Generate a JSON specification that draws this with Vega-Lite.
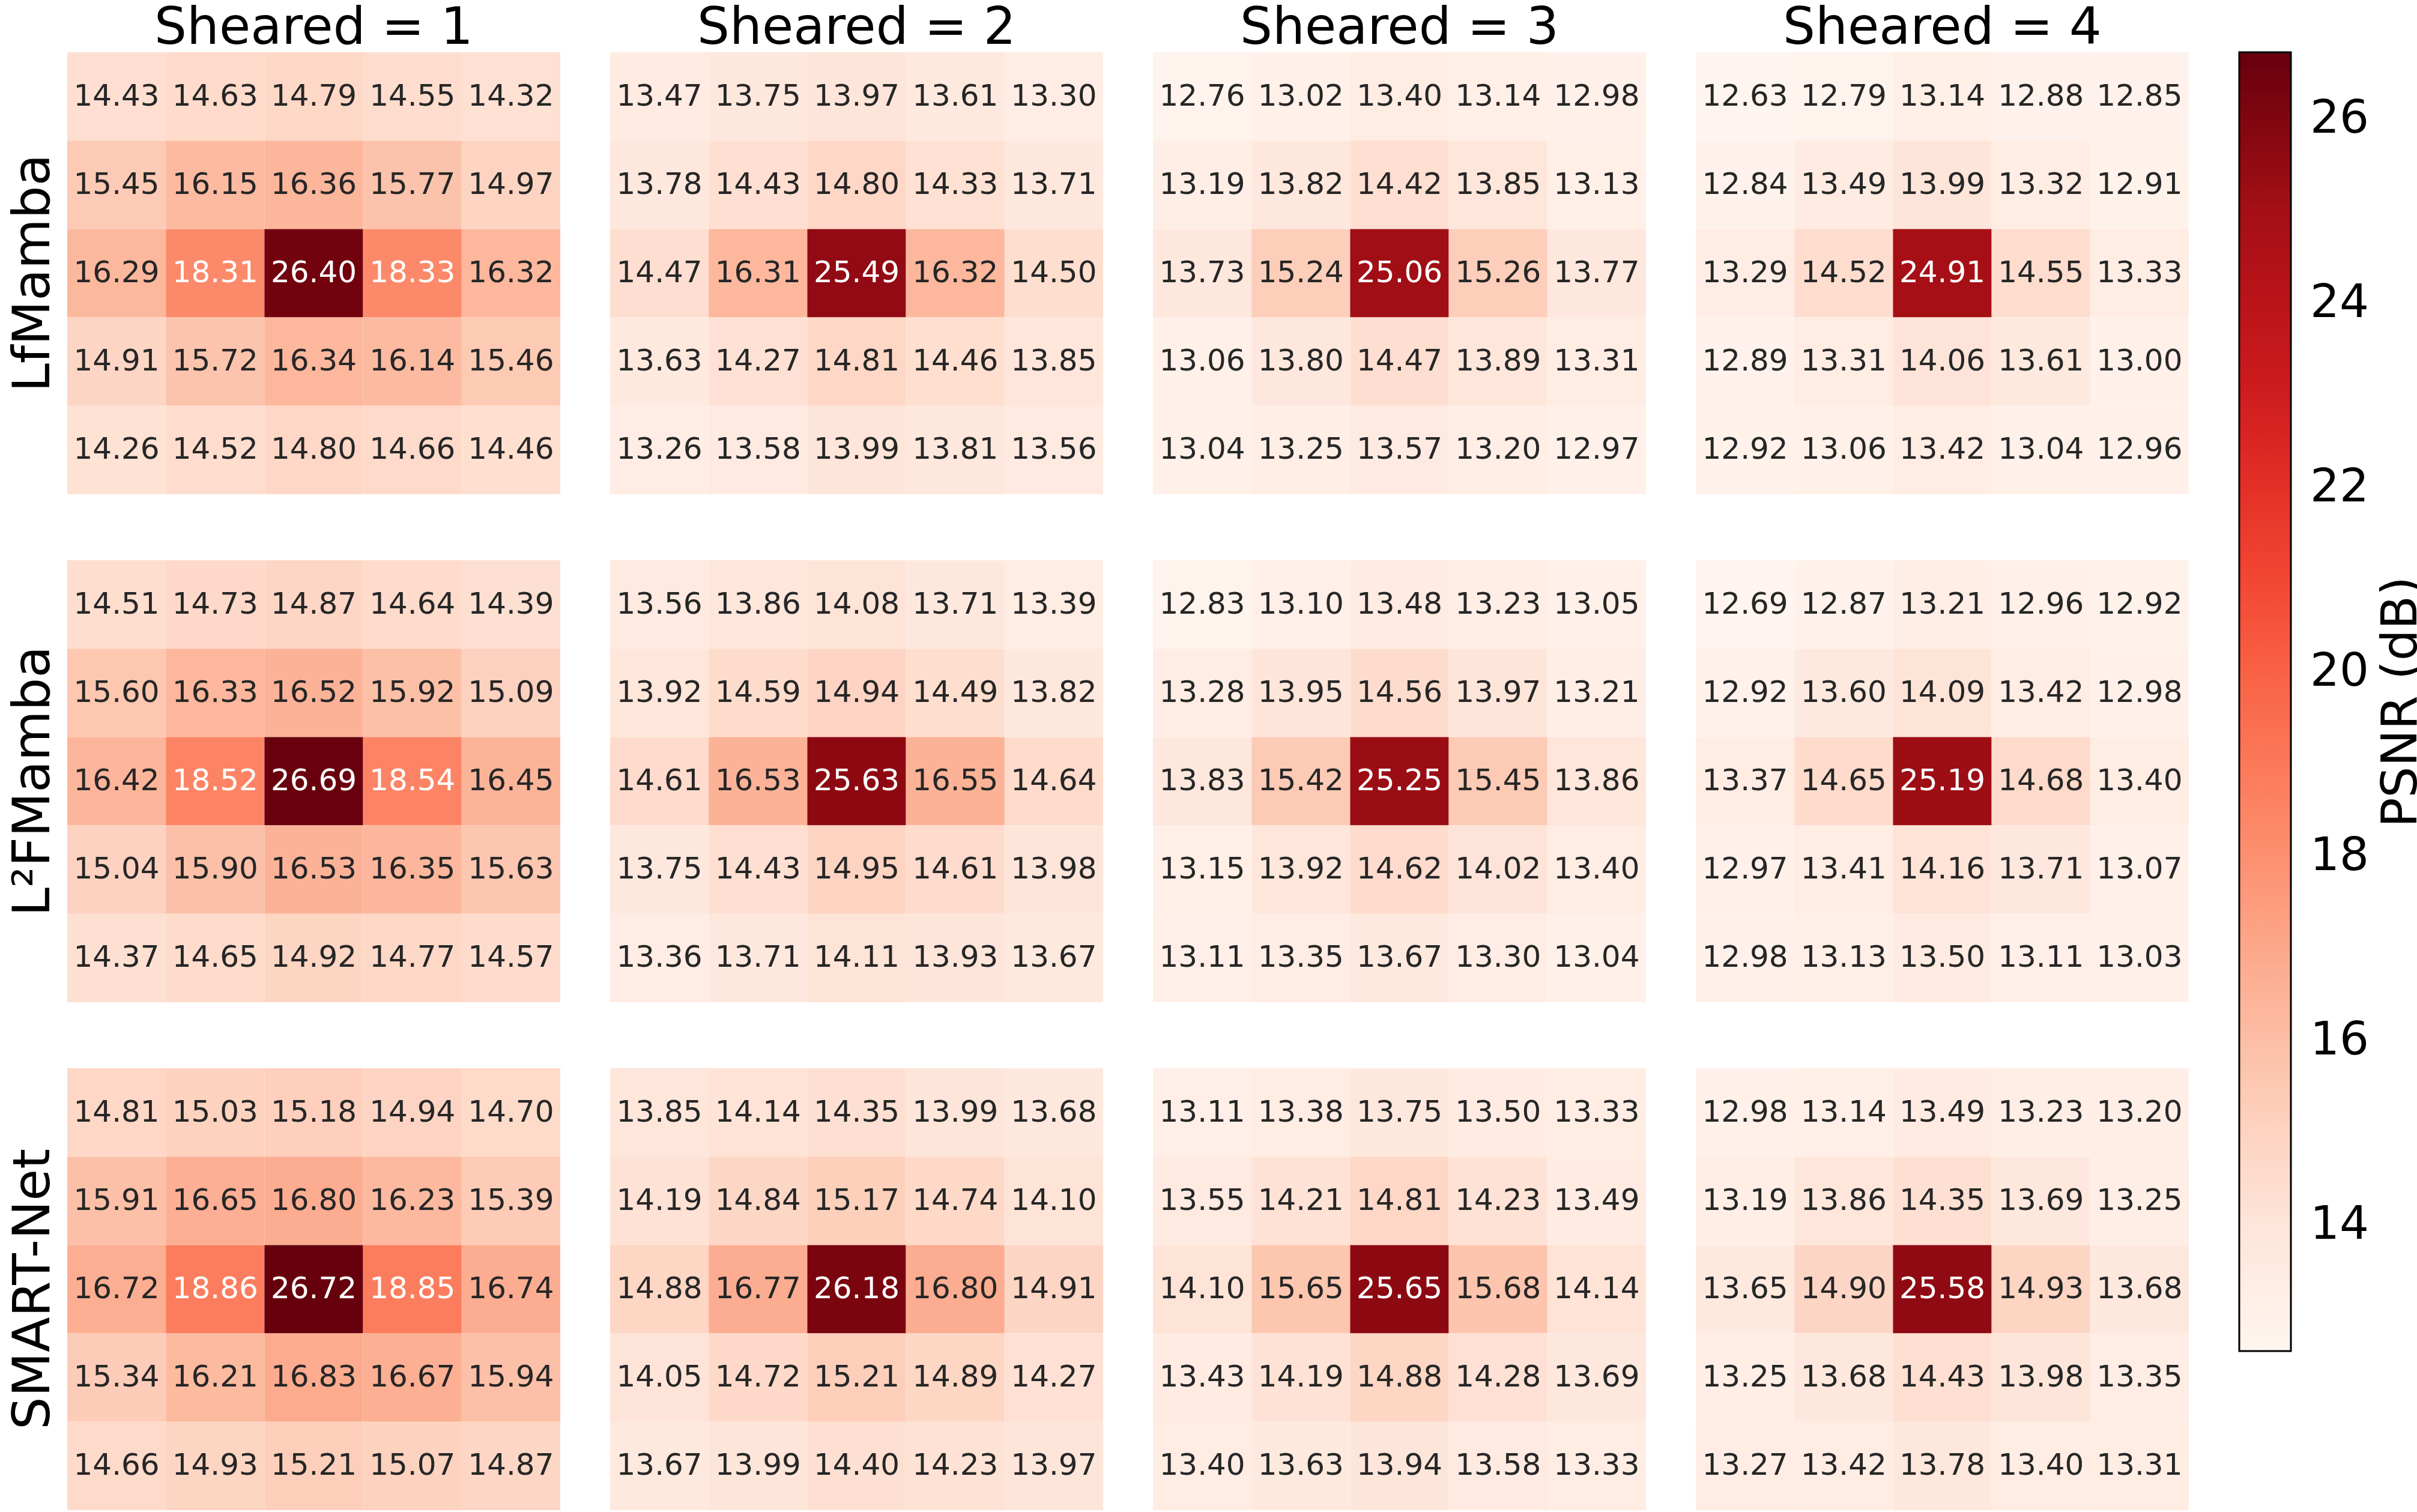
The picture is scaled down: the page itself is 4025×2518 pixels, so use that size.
{
  "$schema": "https://vega.github.io/schema/vega-lite/v6.json",
  "padding": {"left": 12, "top": 5, "right": 0, "bottom": 0},
  "background": "white",
  "config": {
    "view": {"stroke": null},
    "font": "DejaVu Sans"
  },
  "datasets": {
    "grid": [
      {"m":"LfMamba","s":1,"r":0,"c":0,"v":14.43},{"m":"LfMamba","s":1,"r":0,"c":1,"v":14.63},{"m":"LfMamba","s":1,"r":0,"c":2,"v":14.79},{"m":"LfMamba","s":1,"r":0,"c":3,"v":14.55},{"m":"LfMamba","s":1,"r":0,"c":4,"v":14.32},
      {"m":"LfMamba","s":1,"r":1,"c":0,"v":15.45},{"m":"LfMamba","s":1,"r":1,"c":1,"v":16.15},{"m":"LfMamba","s":1,"r":1,"c":2,"v":16.36},{"m":"LfMamba","s":1,"r":1,"c":3,"v":15.77},{"m":"LfMamba","s":1,"r":1,"c":4,"v":14.97},
      {"m":"LfMamba","s":1,"r":2,"c":0,"v":16.29},{"m":"LfMamba","s":1,"r":2,"c":1,"v":18.31},{"m":"LfMamba","s":1,"r":2,"c":2,"v":26.40},{"m":"LfMamba","s":1,"r":2,"c":3,"v":18.33},{"m":"LfMamba","s":1,"r":2,"c":4,"v":16.32},
      {"m":"LfMamba","s":1,"r":3,"c":0,"v":14.91},{"m":"LfMamba","s":1,"r":3,"c":1,"v":15.72},{"m":"LfMamba","s":1,"r":3,"c":2,"v":16.34},{"m":"LfMamba","s":1,"r":3,"c":3,"v":16.14},{"m":"LfMamba","s":1,"r":3,"c":4,"v":15.46},
      {"m":"LfMamba","s":1,"r":4,"c":0,"v":14.26},{"m":"LfMamba","s":1,"r":4,"c":1,"v":14.52},{"m":"LfMamba","s":1,"r":4,"c":2,"v":14.80},{"m":"LfMamba","s":1,"r":4,"c":3,"v":14.66},{"m":"LfMamba","s":1,"r":4,"c":4,"v":14.46},

      {"m":"LfMamba","s":2,"r":0,"c":0,"v":13.47},{"m":"LfMamba","s":2,"r":0,"c":1,"v":13.75},{"m":"LfMamba","s":2,"r":0,"c":2,"v":13.97},{"m":"LfMamba","s":2,"r":0,"c":3,"v":13.61},{"m":"LfMamba","s":2,"r":0,"c":4,"v":13.30},
      {"m":"LfMamba","s":2,"r":1,"c":0,"v":13.78},{"m":"LfMamba","s":2,"r":1,"c":1,"v":14.43},{"m":"LfMamba","s":2,"r":1,"c":2,"v":14.80},{"m":"LfMamba","s":2,"r":1,"c":3,"v":14.33},{"m":"LfMamba","s":2,"r":1,"c":4,"v":13.71},
      {"m":"LfMamba","s":2,"r":2,"c":0,"v":14.47},{"m":"LfMamba","s":2,"r":2,"c":1,"v":16.31},{"m":"LfMamba","s":2,"r":2,"c":2,"v":25.49},{"m":"LfMamba","s":2,"r":2,"c":3,"v":16.32},{"m":"LfMamba","s":2,"r":2,"c":4,"v":14.50},
      {"m":"LfMamba","s":2,"r":3,"c":0,"v":13.63},{"m":"LfMamba","s":2,"r":3,"c":1,"v":14.27},{"m":"LfMamba","s":2,"r":3,"c":2,"v":14.81},{"m":"LfMamba","s":2,"r":3,"c":3,"v":14.46},{"m":"LfMamba","s":2,"r":3,"c":4,"v":13.85},
      {"m":"LfMamba","s":2,"r":4,"c":0,"v":13.26},{"m":"LfMamba","s":2,"r":4,"c":1,"v":13.58},{"m":"LfMamba","s":2,"r":4,"c":2,"v":13.99},{"m":"LfMamba","s":2,"r":4,"c":3,"v":13.81},{"m":"LfMamba","s":2,"r":4,"c":4,"v":13.56},

      {"m":"LfMamba","s":3,"r":0,"c":0,"v":12.76},{"m":"LfMamba","s":3,"r":0,"c":1,"v":13.02},{"m":"LfMamba","s":3,"r":0,"c":2,"v":13.40},{"m":"LfMamba","s":3,"r":0,"c":3,"v":13.14},{"m":"LfMamba","s":3,"r":0,"c":4,"v":12.98},
      {"m":"LfMamba","s":3,"r":1,"c":0,"v":13.19},{"m":"LfMamba","s":3,"r":1,"c":1,"v":13.82},{"m":"LfMamba","s":3,"r":1,"c":2,"v":14.42},{"m":"LfMamba","s":3,"r":1,"c":3,"v":13.85},{"m":"LfMamba","s":3,"r":1,"c":4,"v":13.13},
      {"m":"LfMamba","s":3,"r":2,"c":0,"v":13.73},{"m":"LfMamba","s":3,"r":2,"c":1,"v":15.24},{"m":"LfMamba","s":3,"r":2,"c":2,"v":25.06},{"m":"LfMamba","s":3,"r":2,"c":3,"v":15.26},{"m":"LfMamba","s":3,"r":2,"c":4,"v":13.77},
      {"m":"LfMamba","s":3,"r":3,"c":0,"v":13.06},{"m":"LfMamba","s":3,"r":3,"c":1,"v":13.80},{"m":"LfMamba","s":3,"r":3,"c":2,"v":14.47},{"m":"LfMamba","s":3,"r":3,"c":3,"v":13.89},{"m":"LfMamba","s":3,"r":3,"c":4,"v":13.31},
      {"m":"LfMamba","s":3,"r":4,"c":0,"v":13.04},{"m":"LfMamba","s":3,"r":4,"c":1,"v":13.25},{"m":"LfMamba","s":3,"r":4,"c":2,"v":13.57},{"m":"LfMamba","s":3,"r":4,"c":3,"v":13.20},{"m":"LfMamba","s":3,"r":4,"c":4,"v":12.97},

      {"m":"LfMamba","s":4,"r":0,"c":0,"v":12.63},{"m":"LfMamba","s":4,"r":0,"c":1,"v":12.79},{"m":"LfMamba","s":4,"r":0,"c":2,"v":13.14},{"m":"LfMamba","s":4,"r":0,"c":3,"v":12.88},{"m":"LfMamba","s":4,"r":0,"c":4,"v":12.85},
      {"m":"LfMamba","s":4,"r":1,"c":0,"v":12.84},{"m":"LfMamba","s":4,"r":1,"c":1,"v":13.49},{"m":"LfMamba","s":4,"r":1,"c":2,"v":13.99},{"m":"LfMamba","s":4,"r":1,"c":3,"v":13.32},{"m":"LfMamba","s":4,"r":1,"c":4,"v":12.91},
      {"m":"LfMamba","s":4,"r":2,"c":0,"v":13.29},{"m":"LfMamba","s":4,"r":2,"c":1,"v":14.52},{"m":"LfMamba","s":4,"r":2,"c":2,"v":24.91},{"m":"LfMamba","s":4,"r":2,"c":3,"v":14.55},{"m":"LfMamba","s":4,"r":2,"c":4,"v":13.33},
      {"m":"LfMamba","s":4,"r":3,"c":0,"v":12.89},{"m":"LfMamba","s":4,"r":3,"c":1,"v":13.31},{"m":"LfMamba","s":4,"r":3,"c":2,"v":14.06},{"m":"LfMamba","s":4,"r":3,"c":3,"v":13.61},{"m":"LfMamba","s":4,"r":3,"c":4,"v":13.00},
      {"m":"LfMamba","s":4,"r":4,"c":0,"v":12.92},{"m":"LfMamba","s":4,"r":4,"c":1,"v":13.06},{"m":"LfMamba","s":4,"r":4,"c":2,"v":13.42},{"m":"LfMamba","s":4,"r":4,"c":3,"v":13.04},{"m":"LfMamba","s":4,"r":4,"c":4,"v":12.96},

      {"m":"L²FMamba","s":1,"r":0,"c":0,"v":14.51},{"m":"L²FMamba","s":1,"r":0,"c":1,"v":14.73},{"m":"L²FMamba","s":1,"r":0,"c":2,"v":14.87},{"m":"L²FMamba","s":1,"r":0,"c":3,"v":14.64},{"m":"L²FMamba","s":1,"r":0,"c":4,"v":14.39},
      {"m":"L²FMamba","s":1,"r":1,"c":0,"v":15.60},{"m":"L²FMamba","s":1,"r":1,"c":1,"v":16.33},{"m":"L²FMamba","s":1,"r":1,"c":2,"v":16.52},{"m":"L²FMamba","s":1,"r":1,"c":3,"v":15.92},{"m":"L²FMamba","s":1,"r":1,"c":4,"v":15.09},
      {"m":"L²FMamba","s":1,"r":2,"c":0,"v":16.42},{"m":"L²FMamba","s":1,"r":2,"c":1,"v":18.52},{"m":"L²FMamba","s":1,"r":2,"c":2,"v":26.69},{"m":"L²FMamba","s":1,"r":2,"c":3,"v":18.54},{"m":"L²FMamba","s":1,"r":2,"c":4,"v":16.45},
      {"m":"L²FMamba","s":1,"r":3,"c":0,"v":15.04},{"m":"L²FMamba","s":1,"r":3,"c":1,"v":15.90},{"m":"L²FMamba","s":1,"r":3,"c":2,"v":16.53},{"m":"L²FMamba","s":1,"r":3,"c":3,"v":16.35},{"m":"L²FMamba","s":1,"r":3,"c":4,"v":15.63},
      {"m":"L²FMamba","s":1,"r":4,"c":0,"v":14.37},{"m":"L²FMamba","s":1,"r":4,"c":1,"v":14.65},{"m":"L²FMamba","s":1,"r":4,"c":2,"v":14.92},{"m":"L²FMamba","s":1,"r":4,"c":3,"v":14.77},{"m":"L²FMamba","s":1,"r":4,"c":4,"v":14.57},

      {"m":"L²FMamba","s":2,"r":0,"c":0,"v":13.56},{"m":"L²FMamba","s":2,"r":0,"c":1,"v":13.86},{"m":"L²FMamba","s":2,"r":0,"c":2,"v":14.08},{"m":"L²FMamba","s":2,"r":0,"c":3,"v":13.71},{"m":"L²FMamba","s":2,"r":0,"c":4,"v":13.39},
      {"m":"L²FMamba","s":2,"r":1,"c":0,"v":13.92},{"m":"L²FMamba","s":2,"r":1,"c":1,"v":14.59},{"m":"L²FMamba","s":2,"r":1,"c":2,"v":14.94},{"m":"L²FMamba","s":2,"r":1,"c":3,"v":14.49},{"m":"L²FMamba","s":2,"r":1,"c":4,"v":13.82},
      {"m":"L²FMamba","s":2,"r":2,"c":0,"v":14.61},{"m":"L²FMamba","s":2,"r":2,"c":1,"v":16.53},{"m":"L²FMamba","s":2,"r":2,"c":2,"v":25.63},{"m":"L²FMamba","s":2,"r":2,"c":3,"v":16.55},{"m":"L²FMamba","s":2,"r":2,"c":4,"v":14.64},
      {"m":"L²FMamba","s":2,"r":3,"c":0,"v":13.75},{"m":"L²FMamba","s":2,"r":3,"c":1,"v":14.43},{"m":"L²FMamba","s":2,"r":3,"c":2,"v":14.95},{"m":"L²FMamba","s":2,"r":3,"c":3,"v":14.61},{"m":"L²FMamba","s":2,"r":3,"c":4,"v":13.98},
      {"m":"L²FMamba","s":2,"r":4,"c":0,"v":13.36},{"m":"L²FMamba","s":2,"r":4,"c":1,"v":13.71},{"m":"L²FMamba","s":2,"r":4,"c":2,"v":14.11},{"m":"L²FMamba","s":2,"r":4,"c":3,"v":13.93},{"m":"L²FMamba","s":2,"r":4,"c":4,"v":13.67},

      {"m":"L²FMamba","s":3,"r":0,"c":0,"v":12.83},{"m":"L²FMamba","s":3,"r":0,"c":1,"v":13.10},{"m":"L²FMamba","s":3,"r":0,"c":2,"v":13.48},{"m":"L²FMamba","s":3,"r":0,"c":3,"v":13.23},{"m":"L²FMamba","s":3,"r":0,"c":4,"v":13.05},
      {"m":"L²FMamba","s":3,"r":1,"c":0,"v":13.28},{"m":"L²FMamba","s":3,"r":1,"c":1,"v":13.95},{"m":"L²FMamba","s":3,"r":1,"c":2,"v":14.56},{"m":"L²FMamba","s":3,"r":1,"c":3,"v":13.97},{"m":"L²FMamba","s":3,"r":1,"c":4,"v":13.21},
      {"m":"L²FMamba","s":3,"r":2,"c":0,"v":13.83},{"m":"L²FMamba","s":3,"r":2,"c":1,"v":15.42},{"m":"L²FMamba","s":3,"r":2,"c":2,"v":25.25},{"m":"L²FMamba","s":3,"r":2,"c":3,"v":15.45},{"m":"L²FMamba","s":3,"r":2,"c":4,"v":13.86},
      {"m":"L²FMamba","s":3,"r":3,"c":0,"v":13.15},{"m":"L²FMamba","s":3,"r":3,"c":1,"v":13.92},{"m":"L²FMamba","s":3,"r":3,"c":2,"v":14.62},{"m":"L²FMamba","s":3,"r":3,"c":3,"v":14.02},{"m":"L²FMamba","s":3,"r":3,"c":4,"v":13.40},
      {"m":"L²FMamba","s":3,"r":4,"c":0,"v":13.11},{"m":"L²FMamba","s":3,"r":4,"c":1,"v":13.35},{"m":"L²FMamba","s":3,"r":4,"c":2,"v":13.67},{"m":"L²FMamba","s":3,"r":4,"c":3,"v":13.30},{"m":"L²FMamba","s":3,"r":4,"c":4,"v":13.04},

      {"m":"L²FMamba","s":4,"r":0,"c":0,"v":12.69},{"m":"L²FMamba","s":4,"r":0,"c":1,"v":12.87},{"m":"L²FMamba","s":4,"r":0,"c":2,"v":13.21},{"m":"L²FMamba","s":4,"r":0,"c":3,"v":12.96},{"m":"L²FMamba","s":4,"r":0,"c":4,"v":12.92},
      {"m":"L²FMamba","s":4,"r":1,"c":0,"v":12.92},{"m":"L²FMamba","s":4,"r":1,"c":1,"v":13.60},{"m":"L²FMamba","s":4,"r":1,"c":2,"v":14.09},{"m":"L²FMamba","s":4,"r":1,"c":3,"v":13.42},{"m":"L²FMamba","s":4,"r":1,"c":4,"v":12.98},
      {"m":"L²FMamba","s":4,"r":2,"c":0,"v":13.37},{"m":"L²FMamba","s":4,"r":2,"c":1,"v":14.65},{"m":"L²FMamba","s":4,"r":2,"c":2,"v":25.19},{"m":"L²FMamba","s":4,"r":2,"c":3,"v":14.68},{"m":"L²FMamba","s":4,"r":2,"c":4,"v":13.40},
      {"m":"L²FMamba","s":4,"r":3,"c":0,"v":12.97},{"m":"L²FMamba","s":4,"r":3,"c":1,"v":13.41},{"m":"L²FMamba","s":4,"r":3,"c":2,"v":14.16},{"m":"L²FMamba","s":4,"r":3,"c":3,"v":13.71},{"m":"L²FMamba","s":4,"r":3,"c":4,"v":13.07},
      {"m":"L²FMamba","s":4,"r":4,"c":0,"v":12.98},{"m":"L²FMamba","s":4,"r":4,"c":1,"v":13.13},{"m":"L²FMamba","s":4,"r":4,"c":2,"v":13.50},{"m":"L²FMamba","s":4,"r":4,"c":3,"v":13.11},{"m":"L²FMamba","s":4,"r":4,"c":4,"v":13.03},

      {"m":"SMART-Net","s":1,"r":0,"c":0,"v":14.81},{"m":"SMART-Net","s":1,"r":0,"c":1,"v":15.03},{"m":"SMART-Net","s":1,"r":0,"c":2,"v":15.18},{"m":"SMART-Net","s":1,"r":0,"c":3,"v":14.94},{"m":"SMART-Net","s":1,"r":0,"c":4,"v":14.70},
      {"m":"SMART-Net","s":1,"r":1,"c":0,"v":15.91},{"m":"SMART-Net","s":1,"r":1,"c":1,"v":16.65},{"m":"SMART-Net","s":1,"r":1,"c":2,"v":16.80},{"m":"SMART-Net","s":1,"r":1,"c":3,"v":16.23},{"m":"SMART-Net","s":1,"r":1,"c":4,"v":15.39},
      {"m":"SMART-Net","s":1,"r":2,"c":0,"v":16.72},{"m":"SMART-Net","s":1,"r":2,"c":1,"v":18.86},{"m":"SMART-Net","s":1,"r":2,"c":2,"v":26.72},{"m":"SMART-Net","s":1,"r":2,"c":3,"v":18.85},{"m":"SMART-Net","s":1,"r":2,"c":4,"v":16.74},
      {"m":"SMART-Net","s":1,"r":3,"c":0,"v":15.34},{"m":"SMART-Net","s":1,"r":3,"c":1,"v":16.21},{"m":"SMART-Net","s":1,"r":3,"c":2,"v":16.83},{"m":"SMART-Net","s":1,"r":3,"c":3,"v":16.67},{"m":"SMART-Net","s":1,"r":3,"c":4,"v":15.94},
      {"m":"SMART-Net","s":1,"r":4,"c":0,"v":14.66},{"m":"SMART-Net","s":1,"r":4,"c":1,"v":14.93},{"m":"SMART-Net","s":1,"r":4,"c":2,"v":15.21},{"m":"SMART-Net","s":1,"r":4,"c":3,"v":15.07},{"m":"SMART-Net","s":1,"r":4,"c":4,"v":14.87},

      {"m":"SMART-Net","s":2,"r":0,"c":0,"v":13.85},{"m":"SMART-Net","s":2,"r":0,"c":1,"v":14.14},{"m":"SMART-Net","s":2,"r":0,"c":2,"v":14.35},{"m":"SMART-Net","s":2,"r":0,"c":3,"v":13.99},{"m":"SMART-Net","s":2,"r":0,"c":4,"v":13.68},
      {"m":"SMART-Net","s":2,"r":1,"c":0,"v":14.19},{"m":"SMART-Net","s":2,"r":1,"c":1,"v":14.84},{"m":"SMART-Net","s":2,"r":1,"c":2,"v":15.17},{"m":"SMART-Net","s":2,"r":1,"c":3,"v":14.74},{"m":"SMART-Net","s":2,"r":1,"c":4,"v":14.10},
      {"m":"SMART-Net","s":2,"r":2,"c":0,"v":14.88},{"m":"SMART-Net","s":2,"r":2,"c":1,"v":16.77},{"m":"SMART-Net","s":2,"r":2,"c":2,"v":26.18},{"m":"SMART-Net","s":2,"r":2,"c":3,"v":16.80},{"m":"SMART-Net","s":2,"r":2,"c":4,"v":14.91},
      {"m":"SMART-Net","s":2,"r":3,"c":0,"v":14.05},{"m":"SMART-Net","s":2,"r":3,"c":1,"v":14.72},{"m":"SMART-Net","s":2,"r":3,"c":2,"v":15.21},{"m":"SMART-Net","s":2,"r":3,"c":3,"v":14.89},{"m":"SMART-Net","s":2,"r":3,"c":4,"v":14.27},
      {"m":"SMART-Net","s":2,"r":4,"c":0,"v":13.67},{"m":"SMART-Net","s":2,"r":4,"c":1,"v":13.99},{"m":"SMART-Net","s":2,"r":4,"c":2,"v":14.40},{"m":"SMART-Net","s":2,"r":4,"c":3,"v":14.23},{"m":"SMART-Net","s":2,"r":4,"c":4,"v":13.97},

      {"m":"SMART-Net","s":3,"r":0,"c":0,"v":13.11},{"m":"SMART-Net","s":3,"r":0,"c":1,"v":13.38},{"m":"SMART-Net","s":3,"r":0,"c":2,"v":13.75},{"m":"SMART-Net","s":3,"r":0,"c":3,"v":13.50},{"m":"SMART-Net","s":3,"r":0,"c":4,"v":13.33},
      {"m":"SMART-Net","s":3,"r":1,"c":0,"v":13.55},{"m":"SMART-Net","s":3,"r":1,"c":1,"v":14.21},{"m":"SMART-Net","s":3,"r":1,"c":2,"v":14.81},{"m":"SMART-Net","s":3,"r":1,"c":3,"v":14.23},{"m":"SMART-Net","s":3,"r":1,"c":4,"v":13.49},
      {"m":"SMART-Net","s":3,"r":2,"c":0,"v":14.10},{"m":"SMART-Net","s":3,"r":2,"c":1,"v":15.65},{"m":"SMART-Net","s":3,"r":2,"c":2,"v":25.65},{"m":"SMART-Net","s":3,"r":2,"c":3,"v":15.68},{"m":"SMART-Net","s":3,"r":2,"c":4,"v":14.14},
      {"m":"SMART-Net","s":3,"r":3,"c":0,"v":13.43},{"m":"SMART-Net","s":3,"r":3,"c":1,"v":14.19},{"m":"SMART-Net","s":3,"r":3,"c":2,"v":14.88},{"m":"SMART-Net","s":3,"r":3,"c":3,"v":14.28},{"m":"SMART-Net","s":3,"r":3,"c":4,"v":13.69},
      {"m":"SMART-Net","s":3,"r":4,"c":0,"v":13.40},{"m":"SMART-Net","s":3,"r":4,"c":1,"v":13.63},{"m":"SMART-Net","s":3,"r":4,"c":2,"v":13.94},{"m":"SMART-Net","s":3,"r":4,"c":3,"v":13.58},{"m":"SMART-Net","s":3,"r":4,"c":4,"v":13.33},

      {"m":"SMART-Net","s":4,"r":0,"c":0,"v":12.98},{"m":"SMART-Net","s":4,"r":0,"c":1,"v":13.14},{"m":"SMART-Net","s":4,"r":0,"c":2,"v":13.49},{"m":"SMART-Net","s":4,"r":0,"c":3,"v":13.23},{"m":"SMART-Net","s":4,"r":0,"c":4,"v":13.20},
      {"m":"SMART-Net","s":4,"r":1,"c":0,"v":13.19},{"m":"SMART-Net","s":4,"r":1,"c":1,"v":13.86},{"m":"SMART-Net","s":4,"r":1,"c":2,"v":14.35},{"m":"SMART-Net","s":4,"r":1,"c":3,"v":13.69},{"m":"SMART-Net","s":4,"r":1,"c":4,"v":13.25},
      {"m":"SMART-Net","s":4,"r":2,"c":0,"v":13.65},{"m":"SMART-Net","s":4,"r":2,"c":1,"v":14.90},{"m":"SMART-Net","s":4,"r":2,"c":2,"v":25.58},{"m":"SMART-Net","s":4,"r":2,"c":3,"v":14.93},{"m":"SMART-Net","s":4,"r":2,"c":4,"v":13.68},
      {"m":"SMART-Net","s":4,"r":3,"c":0,"v":13.25},{"m":"SMART-Net","s":4,"r":3,"c":1,"v":13.68},{"m":"SMART-Net","s":4,"r":3,"c":2,"v":14.43},{"m":"SMART-Net","s":4,"r":3,"c":3,"v":13.98},{"m":"SMART-Net","s":4,"r":3,"c":4,"v":13.35},
      {"m":"SMART-Net","s":4,"r":4,"c":0,"v":13.27},{"m":"SMART-Net","s":4,"r":4,"c":1,"v":13.42},{"m":"SMART-Net","s":4,"r":4,"c":2,"v":13.78},{"m":"SMART-Net","s":4,"r":4,"c":3,"v":13.40},{"m":"SMART-Net","s":4,"r":4,"c":4,"v":13.31}
    ]
  },
  "data": {"name": "grid"},
  "facet": {
    "row": {
      "field": "m", "type": "nominal",
      "sort": ["LfMamba", "L²FMamba", "SMART-Net"],
      "header": {"title": null, "labelAngle": -90, "labelOrient": "left", "labelFontSize": 86, "labelFont": "DejaVu Sans", "labelColor": "black", "labelPadding": -30}
    },
    "column": {
      "field": "s", "type": "ordinal",
      "header": {"title": null, "labelExpr": "'Sheared = ' + datum.value", "labelFontSize": 85, "labelFont": "DejaVu Sans", "labelColor": "black", "labelPadding": -4}
    }
  },
  "spacing": {"row": 110, "column": 83},
  "spec": {
    "width": 821,
    "height": 736,
    "encoding": {
      "x": {"field": "c", "type": "ordinal", "axis": null, "scale": {"paddingInner": 0, "paddingOuter": 0}},
      "y": {"field": "r", "type": "ordinal", "axis": null, "scale": {"paddingInner": 0, "paddingOuter": 0}}
    },
    "layer": [
      {
        "mark": {"type": "rect"},
        "encoding": {
          "color": {
            "field": "v", "type": "quantitative",
            "scale": {
              "domain": [12.63, 26.72],
              "range": ["#fff5f0", "#fee0d2", "#fcbba1", "#fc9272", "#fb6a4a", "#ef3b2c", "#cb181d", "#a50f15", "#67000d"],
              "interpolate": "rgb"
            },
            "legend": {
              "title": "PSNR (dB)",
              "orient": "right",
              "offset": 84,
              "direction": "vertical",
              "gradientLength": 2163,
              "gradientThickness": 86,
              "gradientStrokeColor": "black",
              "gradientStrokeWidth": 3,
              "values": [14, 16, 18, 20, 22, 24, 26],
              "format": "d",
              "labelFontSize": 77,
              "labelFont": "DejaVu Sans",
              "labelColor": "black",
              "labelOffset": 32,
              "titleOrient": "right",
              "titleFontSize": 82,
              "titleFont": "DejaVu Sans",
              "titleFontWeight": "normal",
              "titleColor": "black",
              "titleAnchor": "middle",
              "titlePadding": 14,
              "titleLimit": 2000,
              "encoding": {
                "title": {"angle": {"value": 270}, "baseline": {"value": "top"}}
              }
            }
          }
        }
      },
      {
        "mark": {"type": "text", "fontSize": 50, "font": "DejaVu Sans"},
        "encoding": {
          "text": {"field": "v", "type": "quantitative", "format": ".2f"},
          "color": {"condition": {"test": "datum.v > 18", "value": "white"}, "value": "#262626"}
        }
      }
    ]
  }
}
